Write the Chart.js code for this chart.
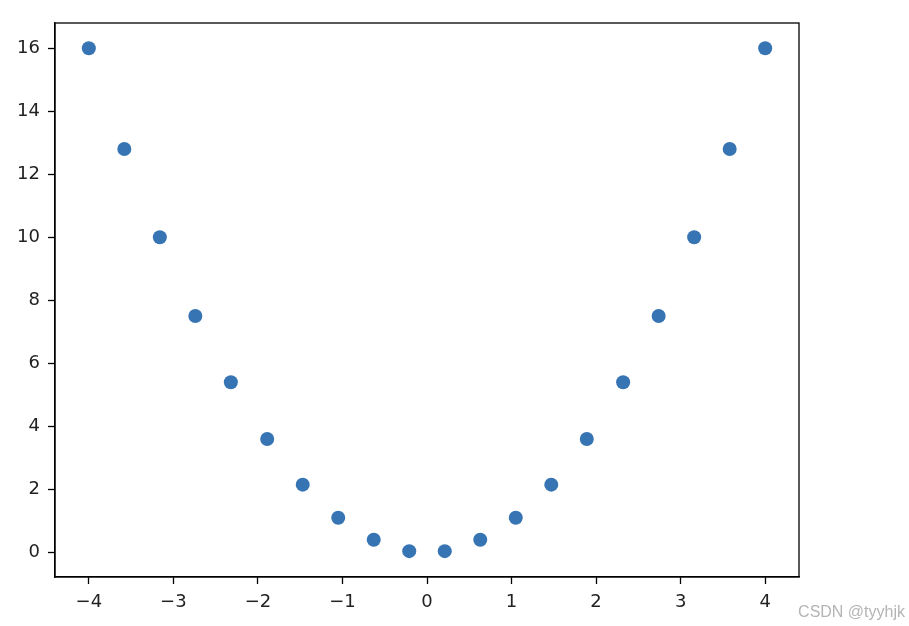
<!DOCTYPE html>
<html>
<head>
<meta charset="utf-8">
<script src="https://cdn.jsdelivr.net/npm/chart.js@4"></script>
<style>
html,body{margin:0;padding:0;background:#fff;}
#wrap{width:909px;height:626px;position:relative;}
</style>
</head>
<body>
<div id="wrap"><canvas id="c" width="909" height="626"></canvas></div>
<script>
const xValues = [-4, -3.58, -3.16, -2.74, -2.32, -1.89, -1.47, -1.05, -0.63, -0.21, 0.21, 0.63, 1.05, 1.47, 1.89, 2.32, 2.74, 3.16, 3.58, 4];
const yValues = [16, 12.8, 10.0, 7.5, 5.4, 3.6, 2.15, 1.1, 0.4, 0.04, 0.04, 0.4, 1.1, 2.15, 3.6, 5.4, 7.5, 10.0, 12.8, 16];
const xTicks = [-4, -3, -2, -1, 0, 1, 2, 3, 4];
const yTicks = [0, 2, 4, 6, 8, 10, 12, 14, 16];
const watermark = 'CSDN @tyyhjk';

const points = xValues.map((x, i) => ({x: x, y: yValues[i]}));
const fmt = v => (v < 0 ? '\u2212' + Math.abs(v) : String(v));

const frame = {
  id: 'frame',
  afterDraw(chart) {
    const {ctx, chartArea: a} = chart;
    ctx.save();
    ctx.strokeStyle = '#000';
    ctx.lineWidth = 1.3;
    ctx.strokeRect(a.left, a.top, a.right - a.left, a.bottom - a.top);
    ctx.fillStyle = '#b4b4b4';
    ctx.font = '16px "Liberation Sans", Arial, sans-serif';
    ctx.textAlign = 'right';
    ctx.textBaseline = 'alphabetic';
    ctx.fillText(watermark, 905, 617);
    ctx.restore();
  }
};

new Chart(document.getElementById('c'), {
  type: 'scatter',
  data: {
    datasets: [{
      data: points,
      backgroundColor: '#3774b3',
      borderColor: '#3774b3',
      borderWidth: 0,
      pointRadius: 7,
      pointHoverRadius: 7
    }]
  },
  options: {
    responsive: false,
    animation: false,
    events: [],
    layout: {padding: {top: 23, right: 110, left: 0, bottom: 0}},
    plugins: {legend: {display: false}, tooltip: {enabled: false}},
    scales: {
      x: {
        type: 'linear',
        min: -4.4, max: 4.4,
        afterBuildTicks: s => { s.ticks = xTicks.map(v => ({value: v})); },
        afterFit: s => { s.height = 49; },
        grid: {display: true, drawOnChartArea: false, drawTicks: true, tickLength: 7, tickColor: '#000', tickWidth: 1.3},
        border: {display: true, color: '#000', width: 1.3},
        ticks: {color: '#222', padding: 8, maxRotation: 0, autoSkip: false,
          font: {family: '"DejaVu Sans"', size: 18}, callback: v => fmt(v)}
      },
      y: {
        type: 'linear',
        min: -0.78, max: 16.8,
        afterBuildTicks: s => { s.ticks = yTicks.map(v => ({value: v})); },
        afterFit: s => { s.width = 55; },
        grid: {display: true, drawOnChartArea: false, drawTicks: true, tickLength: 7, tickColor: '#000', tickWidth: 1.3},
        border: {display: true, color: '#000', width: 1.3},
        ticks: {color: '#222', padding: 8, autoSkip: false,
          font: {family: '"DejaVu Sans"', size: 18}, callback: v => fmt(v)}
      }
    }
  },
  plugins: [frame]
});
</script>
</body>
</html>
